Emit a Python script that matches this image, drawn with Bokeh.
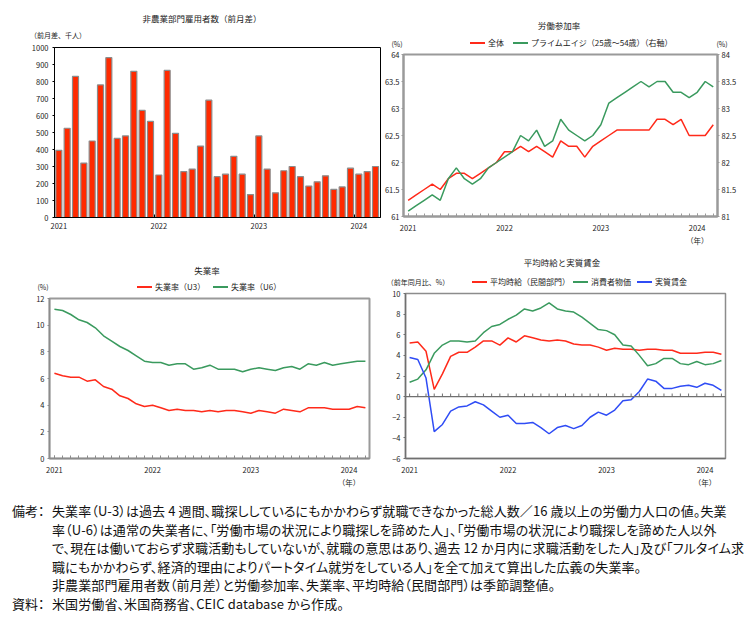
from bokeh.plotting import figure
from bokeh.models import (Range1d, LinearAxis, FixedTicker, NumeralTickFormatter,
                          Span, Div)
from bokeh.layouts import column, row
from bokeh.embed import file_html
from bokeh.resources import INLINE

FONT = "Noto Sans CJK JP"

# ---------------- data (Jan 2021 - Mar 2024, monthly) ----------------
months = list(range(39))
year_ticks = [0, 12, 24, 36]
year_labels = ["2021", "2022", "2023", "2024"]
year_labels_unit = ["2021", "2022", "2023", "2024\n（年）"]
year_bounds = [11.5, 23.5, 35.5]

payrolls = [395, 525, 830, 320, 450, 780, 940, 465, 480, 860, 630, 565,
            250, 865, 495, 270, 285, 420, 690, 240, 255, 360, 255, 135,
            480, 285, 145, 275, 300, 240, 185, 210, 245, 165, 180, 290,
            255, 270, 300]

lfpr_total = [61.3, 61.4, 61.5, 61.6, 61.5, 61.7, 61.8, 61.8, 61.7, 61.8, 61.9, 62.0,
              62.2, 62.2, 62.3, 62.2, 62.3, 62.2, 62.1, 62.4, 62.3, 62.3, 62.1, 62.3,
              62.4, 62.5, 62.6, 62.6, 62.6, 62.6, 62.6, 62.8, 62.8, 62.7, 62.8, 62.5,
              62.5, 62.5, 62.7]
lfpr_prime = [81.1, 81.2, 81.3, 81.4, 81.3, 81.7, 81.9, 81.7, 81.6, 81.7, 81.9, 82.0,
              82.1, 82.2, 82.5, 82.4, 82.6, 82.3, 82.4, 82.8, 82.6, 82.5, 82.4, 82.5,
              82.7, 83.1, 83.2, 83.3, 83.4, 83.5, 83.4, 83.5, 83.5, 83.3, 83.3, 83.2,
              83.3, 83.5, 83.4]

u3 = [6.4, 6.2, 6.1, 6.1, 5.8, 5.9, 5.4, 5.2, 4.7, 4.5, 4.1, 3.9,
      4.0, 3.8, 3.6, 3.7, 3.6, 3.6, 3.5, 3.6, 3.5, 3.6, 3.6, 3.5,
      3.4, 3.6, 3.5, 3.4, 3.7, 3.6, 3.5, 3.8, 3.8, 3.8, 3.7, 3.7,
      3.7, 3.9, 3.8]
u6 = [11.2, 11.1, 10.8, 10.4, 10.2, 9.8, 9.2, 8.8, 8.4, 8.1, 7.7, 7.3,
      7.2, 7.2, 7.0, 7.1, 7.1, 6.7, 6.8, 7.0, 6.7, 6.7, 6.7, 6.5,
      6.7, 6.8, 6.7, 6.6, 6.8, 6.9, 6.7, 7.1, 7.0, 7.2, 7.0, 7.1,
      7.2, 7.3, 7.3]

ahe = [5.2, 5.3, 4.4, 0.7, 2.2, 3.9, 4.3, 4.3, 4.8, 5.4, 5.4, 5.0,
       5.7, 5.3, 5.9, 5.7, 5.5, 5.4, 5.5, 5.4, 5.1, 5.0, 5.0, 4.8,
       4.5, 4.7, 4.6, 4.6, 4.5, 4.6, 4.6, 4.5, 4.5, 4.2, 4.2, 4.2,
       4.3, 4.3, 4.1]
cpi = [1.4, 1.7, 2.6, 4.2, 5.0, 5.4, 5.4, 5.3, 5.4, 6.2, 6.8, 7.0,
       7.5, 7.9, 8.5, 8.3, 8.6, 9.1, 8.5, 8.3, 8.2, 7.7, 7.1, 6.5,
       6.4, 6.0, 5.0, 4.9, 4.0, 3.0, 3.2, 3.7, 3.7, 3.2, 3.1, 3.4,
       3.1, 3.2, 3.5]
real_wage = [3.8, 3.6, 1.8, -3.4, -2.7, -1.4, -1.0, -0.9, -0.5, -0.8, -1.4, -2.0,
             -1.8, -2.6, -2.6, -2.5, -3.0, -3.6, -3.0, -2.8, -3.1, -2.8, -2.0, -1.5,
             -1.8, -1.3, -0.4, -0.3, 0.5, 1.7, 1.5, 0.8, 0.8, 1.0, 1.1, 0.9,
             1.3, 1.1, 0.6]

notes_lines = [
    ("備考：", "失業率（U-3）は過去 4 週間、職探ししているにもかかわらず就職できなかった総人数／16 歳以上の労働力人口の値。失業"),
    ("", "率（U-6）は通常の失業者に、「労働市場の状況により職探しを諦めた人」、「労働市場の状況により職探しを諦めた人以外"),
    ("", "で、現在は働いておらず求職活動もしていないが、就職の意思はあり、過去 12 か月内に求職活動をした人」及び「フルタイム求"),
    ("", "職にもかかわらず、経済的理由によりパートタイム就労をしている人」を全て加えて算出した広義の失業率。"),
    ("", "非農業部門雇用者数（前月差）と労働参加率、失業率、平均時給（民間部門）は季節調整値。"),
    ("資料：", "米国労働省、米国商務省、CEIC database から作成。"),
]

RED_BAR = "#FF2A00"
RED = "#FF2A1A"
GREEN = "#3A9A5E"
BLUE = "#2F4CF5"
TICK_SIZE = "7.5px"
TXT = "#222222"


# ---------------- helpers ----------------
def make_chart(w, h, xr, yr, bl, br, bt, bb):
    p = figure(width=w, height=h, x_range=xr, y_range=yr, output_backend="svg",
               toolbar_location=None, min_border_left=bl, min_border_right=br,
               min_border_top=bt, min_border_bottom=bb)
    p.grid.visible = False
    p.background_fill_color = "white"
    p.border_fill_color = "white"
    return p


def txt(x, y, text, size="8.5px"):
    return ('<span style="position:absolute;left:%spx;top:%spx;transform:translate(-50%%,-50%%);'
            'white-space:nowrap;font-size:%s;line-height:1">%s</span>' % (x, y, size, text))


def leg(x, y, label, color):
    return ('<span style="position:absolute;left:%spx;top:%spx;transform:translateY(-50%%);'
            'white-space:nowrap;font-size:8px;line-height:1;display:flex;align-items:center">'
            '<span style="display:inline-block;width:15px;height:2px;background:%s;'
            'margin-right:3px"></span>%s</span>' % (x, y, color, label))


def header(w, h, items):
    html = ('<div style="position:relative;width:%spx;height:%spx;font-family:\'%s\';color:%s">'
            % (w, h, FONT, TXT) + "".join(items) + "</div>")
    return Div(text=html, width=w, height=h, margin=0)


def style_axes(p, color, width, minor_ticks, labels):
    for ax in p.axis:
        ax.axis_line_color = color
        ax.axis_line_width = width
        ax.major_tick_line_color = color
        ax.minor_tick_line_color = color
        ax.major_label_text_font = FONT
        ax.major_label_text_font_size = TICK_SIZE
        ax.major_label_text_color = TXT
    xa = p.xaxis[0]
    xa.ticker = FixedTicker(ticks=year_ticks, minor_ticks=minor_ticks)
    xa.major_label_overrides = dict(zip(year_ticks, labels))
    xa.major_tick_in = 3
    xa.major_tick_out = 0
    xa.minor_tick_in = 3
    xa.minor_tick_out = 0
    xa.major_label_standoff = 5
    for ya in p.yaxis:
        ya.major_tick_out = 2
        ya.major_tick_in = 0
        ya.minor_tick_out = 0
        ya.minor_tick_in = 0
        ya.major_label_standoff = 3


# ---------------- Panel 1: nonfarm payrolls ----------------
h1 = header(373, 35, [txt(194, 10, "非農業部門雇用者数（前月差）"),
                      txt(50, 27, "（前月差、千人）", "7px")])

p1 = make_chart(373, 207, Range1d(-0.52, 38.6), Range1d(0, 1000), 46, 1, 4, 33)
p1.vbar(x=months, top=payrolls, width=0.72, fill_color=RED_BAR,
        line_color="#8C8C8C", line_width=1.2)
style_axes(p1, "#000000", 1, year_bounds, year_labels)
p1.xaxis[0].major_tick_in = 0
p1.yaxis[0].ticker = FixedTicker(ticks=list(range(0, 1001, 100)))
p1.yaxis[0].major_label_standoff = 4
p1.outline_line_color = "#000000"
p1.outline_line_width = 1

# ---------------- Panel 2: labor force participation ----------------
h2 = header(359, 42, [txt(178, 17, "労働参加率"),
                      txt(16, 36, "(%)", "7px"),
                      txt(341, 36, "(%)", "7px"),
                      leg(89, 35, "全体", RED),
                      leg(132, 35, "プライムエイジ（25歳～54歳）（右軸）", GREEN)])

p2 = make_chart(359, 200, Range1d(-0.58, 38.53), Range1d(61, 64), 21, 23, 4, 34)
p2.extra_y_ranges = {"prime": Range1d(81, 84)}
p2.line(months, lfpr_total, line_color=RED, line_width=1.5)
p2.line(months, lfpr_prime, line_color=GREEN, line_width=1.5, y_range_name="prime")
p2.add_layout(LinearAxis(y_range_name="prime"), "right")
style_axes(p2, "#9A9A9A", 2, months, year_labels_unit)
for ya in p2.yaxis:
    ya.formatter = NumeralTickFormatter(format="0.[0]")
    ya.major_label_standoff = 2
p2.yaxis[0].ticker = FixedTicker(ticks=[61, 61.5, 62, 62.5, 63, 63.5, 64])
p2.yaxis[1].ticker = FixedTicker(ticks=[81, 81.5, 82, 82.5, 83, 83.5, 84])
p2.outline_line_color = "#9A9A9A"
p2.outline_line_width = 2

# ---------------- Panel 3: unemployment rate ----------------
h3 = header(373, 44, [txt(199, 20, "失業率"),
                      txt(35, 37, "(%)", "7px"),
                      leg(129, 37, "失業率（U3）", RED),
                      leg(205, 37, "失業率（U6）", GREEN)])

p3 = make_chart(373, 196, Range1d(-0.6, 38.5), Range1d(0, 12), 41, 12, 4, 31)
p3.line(months, u3, line_color=RED, line_width=1.5)
p3.line(months, u6, line_color=GREEN, line_width=1.5)
style_axes(p3, "#8C8C8C", 1.5, months, year_labels_unit)
p3.yaxis[0].ticker = FixedTicker(ticks=list(range(0, 13, 2)))
p3.outline_line_color = "#9A9A9A"
p3.outline_line_width = 2

# ---------------- Panel 4: hourly earnings and real wages ----------------
h4 = header(359, 39, [txt(181, 12, "平均時給と実質賃金"),
                      txt(37, 32, "（前年同月比、%）", "7px"),
                      leg(91, 32, "平均時給（民間部門）", RED),
                      leg(192, 32, "消費者物価", GREEN),
                      leg(256, 32, "実質賃金", BLUE)])

p4 = make_chart(359, 201, Range1d(-0.5, 38.5), Range1d(-6, 10), 24, 15, 4, 31)
p4.add_layout(Span(location=0, dimension="width", line_color="#707070", line_width=1.2))
p4.segment(x0=months, y0=[0] * len(months), x1=months, y1=[0.3] * len(months),
           line_color="#707070", line_width=1)
p4.line(months, ahe, line_color=RED, line_width=1.5)
p4.line(months, cpi, line_color=GREEN, line_width=1.5)
p4.line(months, real_wage, line_color=BLUE, line_width=1.5)
style_axes(p4, "#707070", 1.5, [], year_labels_unit)
p4.xaxis[0].major_tick_in = 0
p4.yaxis[0].ticker = FixedTicker(ticks=list(range(-6, 11, 2)))
p4.outline_line_color = "#8C8C8C"
p4.outline_line_width = 1.5

# ---------------- Notes ----------------
parts = []
for head, body in notes_lines:
    parts.append(
        '<div style="white-space:nowrap;height:18.6px;line-height:18.6px">'
        '<span style="display:inline-block;width:40px;letter-spacing:0">%s</span>'
        '<span>%s</span></div>' % (head, body))
notes_html = ('<div style="font-family:\'Noto Sans CJK JP\';font-size:13px;color:#111;'
              'letter-spacing:0.1px;font-feature-settings:\'palt\';'
              'padding-top:12px;padding-left:4px">' + "".join(parts) + "</div>")
notes = Div(text=notes_html, width=732, height=126, margin=0)

layout = column(row(column(h1, p1), column(h2, p2)),
                row(column(h3, p3), column(h4, p4)),
                notes, margin=(8, 0, 0, 8))

with open("out.html", "w") as f:
    f.write(file_html(layout, INLINE))
